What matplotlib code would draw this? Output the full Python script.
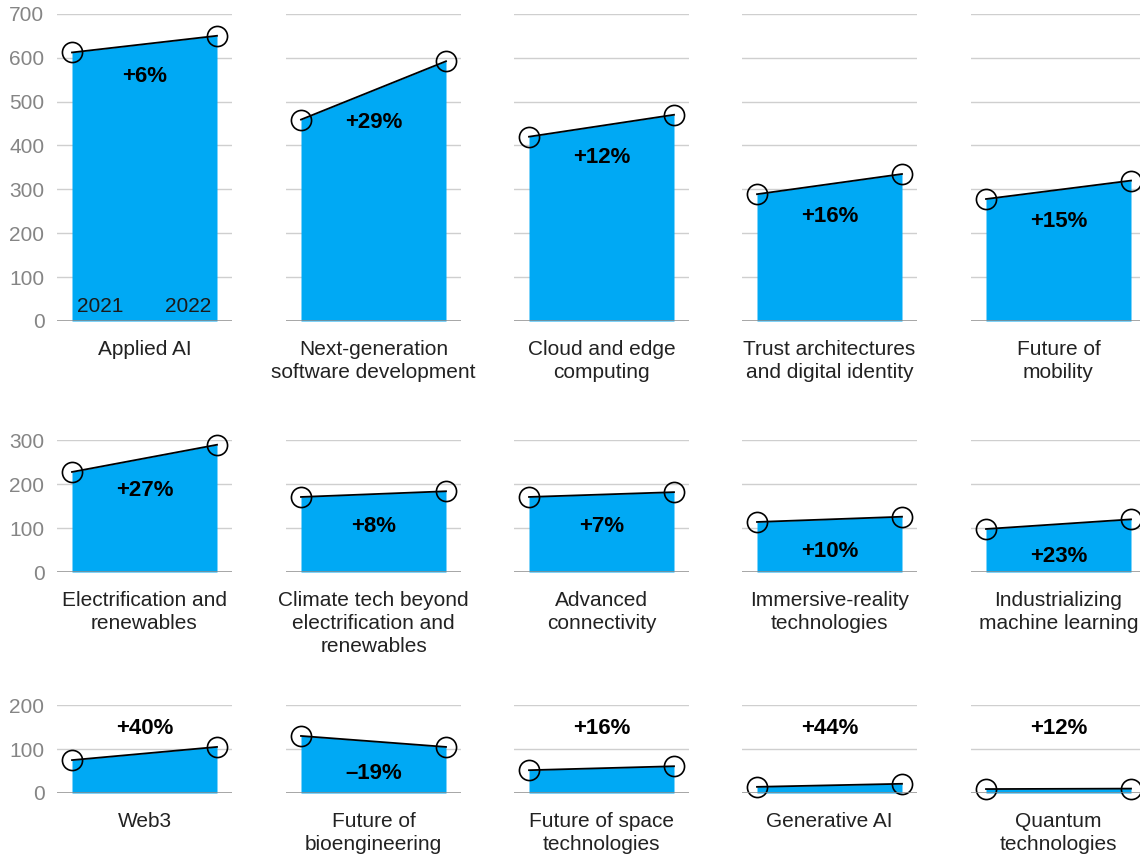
import matplotlib
matplotlib.use("Agg")
import matplotlib.pyplot as plt

plt.rcParams['font.family'] = ['Liberation Sans', 'DejaVu Sans']

# dados (2021 -> 2022)
categorias = [
    "Applied AI", "Next-generation\nsoftware development", "Cloud and edge\ncomputing",
    "Trust architectures\nand digital identity", "Future of\nmobility",
    "Electrification and\nrenewables", "Climate tech beyond\nelectrification and\nrenewables",
    "Advanced\nconnectivity", "Immersive-reality\ntechnologies", "Industrializing\nmachine learning",
    "Web3", "Future of\nbioengineering", "Future of space\ntechnologies", "Generative AI",
    "Quantum\ntechnologies",
]
valores_2021 = [612, 459, 420, 289, 278, 228, 171, 171, 114, 98, 75, 130, 52, 14, 9]
valores_2022 = [650, 592, 470, 335, 320, 290, 184, 182, 126, 120, 105, 105, 61, 21, 10]
variacao = ["+6%", "+29%", "+12%", "+16%", "+15%", "+27%", "+8%", "+7%", "+10%", "+23%",
            "+40%", "\u201319%", "+16%", "+44%", "+12%"]
rotulo_dentro = [True] * 10 + [False, True, False, False, False]
anos = [2021, 2022]
limites_y = [700, 300, 200]

AZUL = "#00A9F4"
W, H = 1140, 859

fig = plt.figure(figsize=(W / 100, H / 100), dpi=100)

col_left = [57, 286, 514, 742, 971]
row_zero = [321, 572, 793]
px_por_unidade = 0.4388
ax_w = 175

for i, cat in enumerate(categorias):
    r, c = divmod(i, 5)
    top = limites_y[r]
    h = top * px_por_unidade
    ax = fig.add_axes([col_left[c] / W, 1 - row_zero[r] / H, ax_w / W, h / H])
    ax.set_xlim(2021 - 15 / 145, 2022 + 15 / 145)
    ax.set_ylim(0, top)

    ys = [valores_2021[i], valores_2022[i]]
    ax.fill_between(anos, ys, 0, color=AZUL, linewidth=0, zorder=2)
    ax.plot(anos, ys, color="black", linewidth=1.3, zorder=3, clip_on=False)
    ax.plot(anos, ys, "o", markersize=14.5, markerfacecolor="none",
            markeredgecolor="black", markeredgewidth=1.2, zorder=4, clip_on=False)

    # grade
    for v in range(100, top + 1, 100):
        ax.axhline(v, color="#cfcfcf", linewidth=1, zorder=1)
    ax.axhline(0, color="#8c8c8c", linewidth=1.8, zorder=5)

    for s in ax.spines.values():
        s.set_visible(False)
    ax.set_xticks([])
    ax.set_yticks(range(0, top + 1, 100))
    ax.tick_params(axis="y", length=0, pad=9, labelsize=15, labelcolor="#858585")
    if c != 0:
        ax.set_yticklabels([])

    meio = (ys[0] + ys[1]) / 2
    if rotulo_dentro[i]:
        ax.annotate(variacao[i], (2021.5, meio), xytext=(0, -32), textcoords="offset pixels",
                    ha="center", va="center", fontsize=16, fontweight="bold", zorder=6)
    else:
        ax.text(2021.5, 148, variacao[i], ha="center", va="center",
                fontsize=16, fontweight="bold", zorder=6)

    ax.annotate(cat, (0.5, 0), xycoords="axes fraction", xytext=(0, -19),
                textcoords="offset pixels", ha="center", va="top", fontsize=15,
                color="#222222", linespacing=1.25)

    if i == 0:
        ax.annotate(str(anos[0]), (anos[0], 0), xytext=(5, 5), textcoords="offset pixels",
                    ha="left", va="bottom", fontsize=15, color="#1a1a1a", zorder=6)
        ax.annotate(str(anos[1]), (anos[1], 0), xytext=(-6, 5), textcoords="offset pixels",
                    ha="right", va="bottom", fontsize=15, color="#1a1a1a", zorder=6)

fig.savefig("out.png", dpi=100)
